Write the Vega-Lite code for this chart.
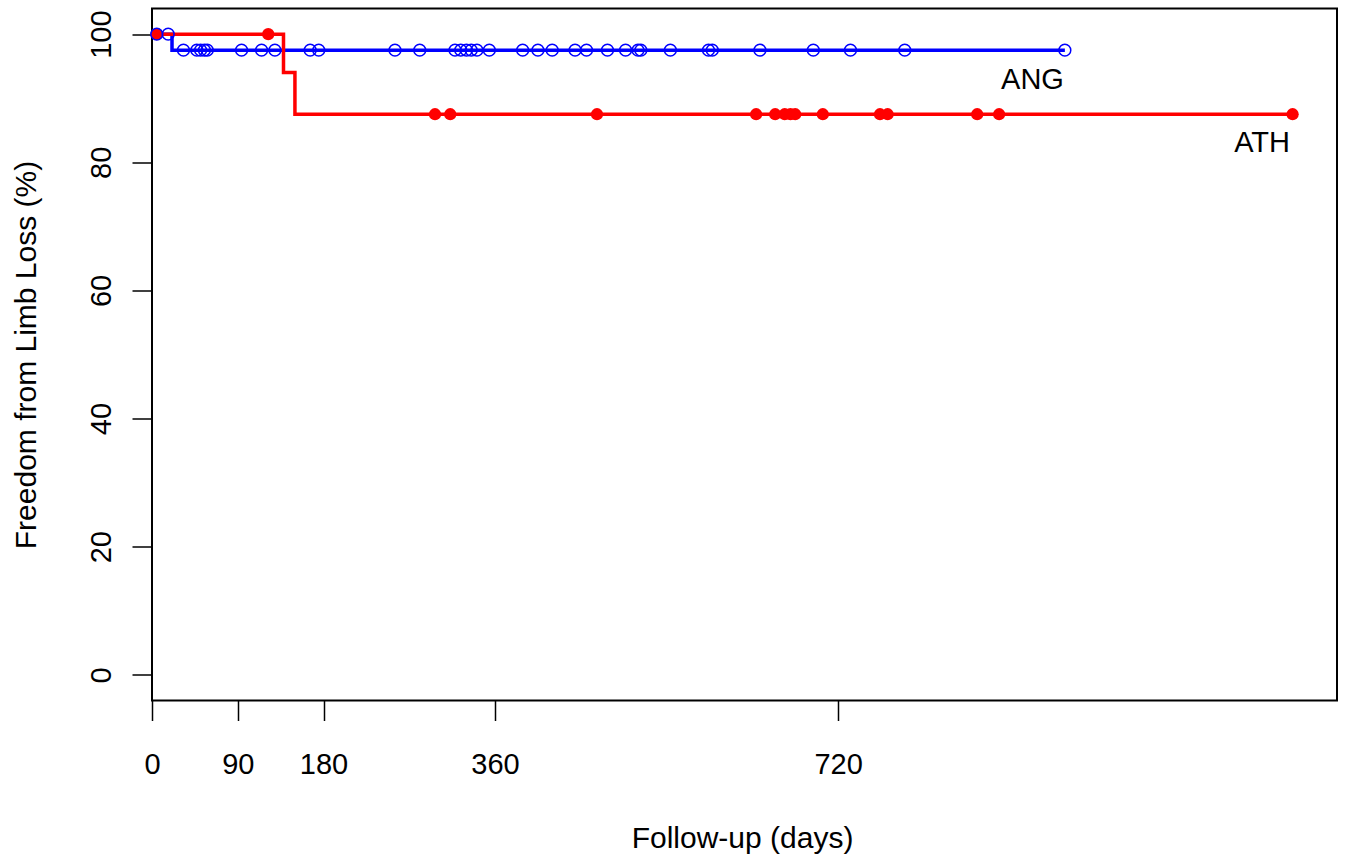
{
  "$schema": "https://vega.github.io/schema/vega-lite/v6.json",
  "width": 1185,
  "height": 692,
  "autosize": "none",
  "padding": {"left": 152, "top": 8.5, "right": 9, "bottom": 162.5},
  "background": "white",
  "config": {
    "font": "Liberation Sans",
    "view": {"stroke": "black", "strokeWidth": 2},
    "axis": {"grid": false, "domain": false, "tickColor": "black", "tickWidth": 1.5, "tickSize": 20, "labelColor": "black", "titleColor": "black", "labelFontSize": 29, "titleFontSize": 30, "titleFontWeight": "normal", "labelFont": "Liberation Sans", "titleFont": "Liberation Sans"}
  },
  "datasets": {
    "curves": [
      {"group": "ANG", "t": 0, "s": 100},
      {"group": "ANG", "t": 21, "s": 97.5},
      {"group": "ANG", "t": 958, "s": 97.5},
      {"group": "ATH", "t": 0, "s": 100},
      {"group": "ATH", "t": 138, "s": 94},
      {"group": "ATH", "t": 150, "s": 87.5},
      {"group": "ATH", "t": 1197, "s": 87.5}
    ],
    "athCensor": [
      {"group": "ATH", "t": 5, "s": 100},
      {"group": "ATH", "t": 122, "s": 100},
      {"group": "ATH", "t": 297, "s": 87.5},
      {"group": "ATH", "t": 313, "s": 87.5},
      {"group": "ATH", "t": 467, "s": 87.5},
      {"group": "ATH", "t": 634, "s": 87.5},
      {"group": "ATH", "t": 654, "s": 87.5},
      {"group": "ATH", "t": 664, "s": 87.5},
      {"group": "ATH", "t": 670, "s": 87.5},
      {"group": "ATH", "t": 675, "s": 87.5},
      {"group": "ATH", "t": 704, "s": 87.5},
      {"group": "ATH", "t": 764, "s": 87.5},
      {"group": "ATH", "t": 772, "s": 87.5},
      {"group": "ATH", "t": 866, "s": 87.5},
      {"group": "ATH", "t": 889, "s": 87.5},
      {"group": "ATH", "t": 1197, "s": 87.5}
    ],
    "angCensor": [
      {"group": "ANG", "t": 5, "s": 100},
      {"group": "ANG", "t": 17, "s": 100},
      {"group": "ANG", "t": 33, "s": 97.5},
      {"group": "ANG", "t": 47, "s": 97.5},
      {"group": "ANG", "t": 51, "s": 97.5},
      {"group": "ANG", "t": 55, "s": 97.5},
      {"group": "ANG", "t": 58, "s": 97.5},
      {"group": "ANG", "t": 94, "s": 97.5},
      {"group": "ANG", "t": 115, "s": 97.5},
      {"group": "ANG", "t": 129, "s": 97.5},
      {"group": "ANG", "t": 166, "s": 97.5},
      {"group": "ANG", "t": 175, "s": 97.5},
      {"group": "ANG", "t": 255, "s": 97.5},
      {"group": "ANG", "t": 281, "s": 97.5},
      {"group": "ANG", "t": 318, "s": 97.5},
      {"group": "ANG", "t": 324, "s": 97.5},
      {"group": "ANG", "t": 330, "s": 97.5},
      {"group": "ANG", "t": 335, "s": 97.5},
      {"group": "ANG", "t": 341, "s": 97.5},
      {"group": "ANG", "t": 354, "s": 97.5},
      {"group": "ANG", "t": 389, "s": 97.5},
      {"group": "ANG", "t": 405, "s": 97.5},
      {"group": "ANG", "t": 420, "s": 97.5},
      {"group": "ANG", "t": 444, "s": 97.5},
      {"group": "ANG", "t": 456, "s": 97.5},
      {"group": "ANG", "t": 478, "s": 97.5},
      {"group": "ANG", "t": 497, "s": 97.5},
      {"group": "ANG", "t": 510, "s": 97.5},
      {"group": "ANG", "t": 513, "s": 97.5},
      {"group": "ANG", "t": 544, "s": 97.5},
      {"group": "ANG", "t": 584, "s": 97.5},
      {"group": "ANG", "t": 588, "s": 97.5},
      {"group": "ANG", "t": 638, "s": 97.5},
      {"group": "ANG", "t": 694, "s": 97.5},
      {"group": "ANG", "t": 733, "s": 97.5},
      {"group": "ANG", "t": 790, "s": 97.5},
      {"group": "ANG", "t": 958, "s": 97.5}
    ],
    "labels": [
      {"group": "ANG", "t": 924, "s": 92.8, "label": "ANG"},
      {"group": "ATH", "t": 1165, "s": 83.0, "label": "ATH"}
    ]
  },
  "layer": [
    {
      "data": {"name": "curves"},
      "mark": {"type": "line", "interpolate": "step-after", "strokeWidth": 3.5},
      "encoding": {
        "x": {
          "field": "t", "type": "quantitative",
          "scale": {"domain": [0, 1243.6], "nice": false, "zero": false},
          "axis": {"values": [0, 90, 180, 360, 720], "title": "Follow-up (days)", "labelPadding": 30, "labelBaseline": "top", "labelAlign": "center", "titleX": 590, "titleY": 138, "titleBaseline": "middle", "titleAlign": "center", "labelFlush": false, "labelOverlap": false}
        },
        "y": {
          "field": "s", "type": "quantitative",
          "scale": {"domain": [-4, 104], "nice": false, "zero": false},
          "axis": {"values": [0, 20, 40, 60, 80, 100], "title": "Freedom from Limb Loss (%)", "labelAngle": -90, "labelAlign": "center", "labelBaseline": "alphabetic", "labelPadding": 22, "titleAngle": -90, "titleX": -126, "titleY": 346, "titleBaseline": "middle", "titleAlign": "center", "labelFlush": false, "labelOverlap": false}
        },
        "color": {"field": "group", "type": "nominal", "scale": {"domain": ["ANG", "ATH"], "range": ["#0000ff", "#ff0000"]}, "legend": null}
      }
    },
    {
      "data": {"name": "athCensor"},
      "mark": {"type": "point", "shape": "circle", "filled": true, "size": 150, "opacity": 1},
      "encoding": {
        "x": {"field": "t", "type": "quantitative"},
        "y": {"field": "s", "type": "quantitative"},
        "color": {"field": "group", "type": "nominal", "legend": null}
      }
    },
    {
      "data": {"name": "angCensor"},
      "mark": {"type": "point", "shape": "circle", "filled": false, "size": 140, "strokeWidth": 1.5, "opacity": 1},
      "encoding": {
        "x": {"field": "t", "type": "quantitative"},
        "y": {"field": "s", "type": "quantitative"},
        "color": {"field": "group", "type": "nominal", "legend": null}
      }
    },
    {
      "data": {"name": "labels"},
      "mark": {"type": "text", "fontSize": 29, "color": "black", "align": "center", "baseline": "middle", "font": "Liberation Sans"},
      "encoding": {
        "x": {"field": "t", "type": "quantitative"},
        "y": {"field": "s", "type": "quantitative"},
        "text": {"field": "label"}
      }
    }
  ]
}
